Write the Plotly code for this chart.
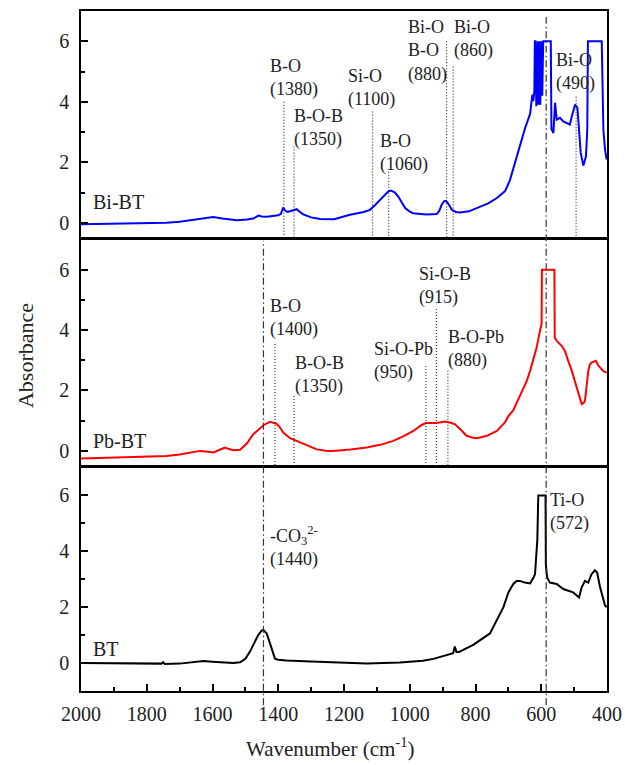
import plotly.graph_objects as go
from plotly.subplots import make_subplots

# ---------------- data ----------------
bi_wn = [2000, 1900, 1800, 1740, 1700, 1660, 1633, 1615, 1598, 1570, 1526, 1495, 1476, 1460, 1450,
         1435, 1400, 1392, 1385, 1378, 1372, 1362, 1354, 1344, 1334, 1324, 1300, 1273, 1230, 1182,
         1140, 1121, 1106, 1090, 1075, 1065, 1057, 1045, 1035, 1025, 1014, 1000, 990, 950, 918,
         910, 903, 895, 890, 882, 872, 860, 847, 820, 796, 760, 735, 710, 695, 680, 665, 650,
         634, 627, 624, 621, 619.5, 618.5, 617.5, 615, 612.5, 611, 609, 606.5, 605.5, 603, 600.5,
         599.5, 597, 594, 590, 571, 569, 563, 558, 553, 543, 533, 523, 513, 507, 497, 490,
         485, 480, 472, 464, 460, 458, 416, 411, 406, 401]
bi_abs = [-0.05, -0.04, -0.03, 0.0, 0.04, 0.10, 0.16, 0.17, 0.19, 0.14, 0.09, 0.11, 0.14, 0.24, 0.21,
          0.20, 0.25, 0.30, 0.50, 0.40, 0.36, 0.39, 0.41, 0.45, 0.36, 0.28, 0.18, 0.13, 0.12, 0.27,
          0.36, 0.43, 0.58, 0.76, 0.92, 1.04, 1.07, 1.00, 0.87, 0.68, 0.49, 0.37, 0.32, 0.28, 0.29,
          0.40, 0.60, 0.72, 0.73, 0.62, 0.43, 0.36, 0.34, 0.38, 0.49, 0.65, 0.82, 1.05, 1.42, 2.0, 2.6, 3.1,
          3.6, 4.24, 4.02, 4.35, 6.0, 6.0, 6.0, 3.85, 6.0, 6.0, 3.9, 6.0, 6.0, 3.9, 6.0,
          6.0, 4.2, 6.0, 6.0, 6.0, 3.1, 2.97, 3.97, 3.41, 3.47, 3.35, 3.30, 3.25, 3.52, 3.91, 3.8,
          3.08, 2.31, 1.89, 2.2, 3.08, 6.0, 6.0, 3.08, 2.42, 2.09]

pb_wn = [2000, 1900, 1800, 1739, 1700, 1660, 1638, 1620, 1597, 1580, 1562, 1550, 1537, 1516, 1495,
         1476, 1460, 1445, 1425, 1405, 1395, 1385, 1364, 1345, 1324, 1300, 1283, 1250, 1233, 1180,
         1131, 1090, 1050, 1020, 989, 965, 951, 935, 918, 905, 893, 875, 862, 845, 827, 810, 796,
         765, 735, 710, 700, 685, 665, 644, 634, 614, 604, 599, 598, 560, 559, 553, 538, 528, 518,
         507, 492, 477, 470, 467, 457, 452, 447, 437, 434, 428, 421, 412, 401]
pb_abs = [-0.25, -0.22, -0.19, -0.17, -0.12, -0.04, 0.0, -0.02, -0.05, 0.03, 0.11, 0.06, 0.02, 0.04, 0.25,
          0.55, 0.72, 0.85, 0.96, 0.90, 0.78, 0.61, 0.42, 0.33, 0.24, 0.12, 0.05, 0.0, 0.0, 0.05,
          0.11, 0.20, 0.33, 0.48, 0.66, 0.85, 0.92, 0.92, 0.92, 0.95, 0.97, 0.93, 0.88, 0.70, 0.50, 0.44, 0.42,
          0.50, 0.66, 0.95, 1.15, 1.35, 1.85, 2.32, 2.65, 3.42, 3.97, 4.2, 6.0, 6.0, 3.75, 3.64, 3.48, 3.31, 2.98,
          2.65, 2.10, 1.55, 1.6, 1.66, 2.65, 2.87, 2.92, 2.98, 2.98, 2.85, 2.76, 2.65, 2.59]

bt_wn = [2000, 1900, 1800, 1755, 1750, 1745, 1700, 1660, 1628, 1600, 1560, 1537, 1516, 1500, 1486,
         1470, 1461, 1450, 1445, 1435, 1423, 1410, 1400, 1375, 1300, 1273, 1200, 1131, 1030, 960,
         928, 880, 868, 863, 858, 850, 807, 756, 726, 715, 700, 685, 675, 665, 650, 634, 624, 619,
         612, 609, 587, 586, 582, 574, 553, 533, 503, 485, 477, 467, 457, 447, 437, 430, 421, 411,
         406, 401]
bt_abs = [0.0, -0.01, -0.02, -0.02, 0.03, -0.03, -0.02, 0.03, 0.07, 0.05, 0.02, 0.0, 0.03, 0.15, 0.41,
          0.80, 1.0, 1.17, 1.18, 1.06, 0.59, 0.16, 0.12, 0.09, 0.06, 0.05, 0.0, -0.02, 0.02, 0.08,
          0.15, 0.30, 0.35, 0.59, 0.40, 0.40, 0.65, 1.06, 1.71, 2.0, 2.53, 2.83, 2.94, 2.94, 2.88, 2.85, 3.05, 3.18,
          4.4, 6.0, 6.0, 3.53, 3.06, 2.88, 2.83, 2.65, 2.53, 2.35, 2.71, 2.94, 2.88, 3.18, 3.32, 3.24, 2.71, 2.30,
          2.06, 2.0]

# peak assignments: label, label anchor (wn, abs), marker line wn, line top
bi_labels = ["B-O<br>(1380)", "B-O-B<br>(1350)", "Si-O<br>(1100)", "B-O<br>(1060)",
             "Bi-O<br>B-O<br>(880)", "Bi-O<br>(860)", "Bi-O<br>(490)"]
bi_label_wn = [1431, 1358, 1194, 1097, 1011, 871, 561]
bi_label_y = [4.77, 3.13, 4.45, 2.30, 5.68, 6.06, 4.98]
bi_line_wn = [1383, 1352, 1113, 1064, 888, 868, 494]
bi_line_top = [4.0, 2.52, 3.68, 1.69, 6.0, 5.17, 4.17]

pb_labels = ["B-O<br>(1400)", "B-O-B<br>(1350)", "Si-O-Pb<br>(950)", "Si-O-B<br>(915)", "B-O-Pb<br>(880)"]
pb_label_wn = [1431, 1355, 1115, 978, 890]
pb_label_y = [4.39, 2.52, 2.98, 5.46, 3.39]
pb_line_wn = [1410, 1352, 951, 919, 884]
pb_line_top = [3.54, 1.82, 2.81, 4.70, 2.65]

bt_labels = ["-CO<sub>3</sub><sup>2-</sup><br>(1440)", "Ti-O<br>(572)"]
bt_label_wn = [1431, 580]
bt_label_y = [4.18, 5.40]

sample_names = ["Bi-BT", "Pb-BT", "BT"]
sample_label_y = [0.70, 0.33, 0.51]

dashdot_wn = [1445, 585]

x_ticks = [2000, 1800, 1600, 1400, 1200, 1000, 800, 600, 400]
y_ticks = [0, 2, 4, 6]

# ---------------- figure ----------------
FONT = "Liberation Serif, Times New Roman, serif"
fig = make_subplots(rows=3, cols=1, shared_xaxes=True, vertical_spacing=0)

series = [(bi_wn, bi_abs, "#0000ff"), (pb_wn, pb_abs, "#ff0000"), (bt_wn, bt_abs, "#000000")]
for i, (wn, ab, col) in enumerate(series):
    fig.add_trace(go.Scatter(x=wn, y=ab, mode="lines", line=dict(color=col, width=2),
                             showlegend=False, hoverinfo="skip"), row=i + 1, col=1)

# panel domains (paper fractions); small offsets make shared borders coincide
domains = [[0.6662, 1.0], [0.3309, 0.6640], [0.0, 0.3287]]
yranges = [[-0.5, 7], [-0.5, 7], [-1, 7]]

for i in range(3):
    ax = "" if i == 0 else str(i + 1)
    fig.layout["yaxis" + ax].update(
        domain=domains[i], range=yranges[i], tickvals=y_ticks, ticks="inside", ticklen=7,
        tickwidth=1.5, tickcolor="black", minor=dict(dtick=1, ticks="inside", ticklen=4,
                                                    tickwidth=1.5, tickcolor="black"),
        showline=True, linewidth=1.5, linecolor="black", mirror=True, showgrid=False,
        zeroline=False, tickfont=dict(family=FONT, size=20, color="#222"), ticklabelstandoff=6,
        automargin=False)
    xa = dict(range=[2000, 400], showline=True, linewidth=1.5, linecolor="black", mirror=True,
              showgrid=False, zeroline=False, automargin=False)
    if i == 2:
        xa.update(tickvals=x_ticks, ticks="inside", ticklen=7, tickwidth=1.5, tickcolor="black",
                  minor=dict(dtick=100, ticks="inside", ticklen=4, tickwidth=1.5, tickcolor="black"),
                  tickfont=dict(family=FONT, size=20, color="#222"), showticklabels=True,
                  ticklabelstandoff=4)
    else:
        xa.update(ticks="", showticklabels=False)
    fig.layout["xaxis" + ax].update(**xa)

shapes = []
annotations = []
ann_font = dict(family=FONT, size=18, color="#222")

def add_labels(labels, lwn, ly, xref, yref):
    for t, x, y in zip(labels, lwn, ly):
        annotations.append(dict(text=t, x=x, y=y, xref=xref, yref=yref, xanchor="left",
                                yanchor="middle", showarrow=False, align="left", font=ann_font))

def add_lines(lwn, ltop, xref, yref, bottom):
    for x, t in zip(lwn, ltop):
        shapes.append(dict(type="line", x0=x, x1=x, y0=t, y1=bottom, xref=xref, yref=yref,
                           line=dict(color="#333", width=1.2, dash="1px,2px")))

add_labels(bi_labels, bi_label_wn, bi_label_y, "x", "y")
add_lines(bi_line_wn, bi_line_top, "x", "y", -0.5)
add_labels(pb_labels, pb_label_wn, pb_label_y, "x2", "y2")
add_lines(pb_line_wn, pb_line_top, "x2", "y2", -0.5)
add_labels(bt_labels, bt_label_wn, bt_label_y, "x3", "y3")

for i, name in enumerate(sample_names):
    ax = "" if i == 0 else str(i + 1)
    annotations.append(dict(text=name, x=1970, y=sample_label_y[i], xref="x" + ax, yref="y" + ax,
                            xanchor="left", yanchor="middle", showarrow=False,
                            font=dict(family=FONT, size=20, color="#222")))

# dash-dot reference lines spanning panels
dd_spans = [[-0.021, 0.662], [-0.021, 0.991]]
for x, (y0, y1) in zip(dashdot_wn, dd_spans):
    shapes.append(dict(type="line", x0=x, x1=x, y0=y0, y1=y1, xref="x3", yref="paper",
                       line=dict(color="#333", width=1.2, dash="7px,3px,1.5px,3px")))

annotations.append(dict(text="Absorbance", x=-0.1065, y=0.494, xref="paper", yref="paper",
                        textangle=-90, showarrow=False, xanchor="center", yanchor="middle",
                        font=dict(family=FONT, size=22, color="#222")))
annotations.append(dict(text="Wavenumber (cm<sup>-1</sup>)", x=0.475, y=-0.0838, xref="paper",
                        yref="paper", showarrow=False, xanchor="center", yanchor="middle",
                        font=dict(family=FONT, size=21, color="#222")))

fig.update_layout(width=625, height=765, margin=dict(l=81, r=18, t=11, b=74),
                  plot_bgcolor="white", paper_bgcolor="white", shapes=shapes,
                  annotations=annotations, showlegend=False)

fig.write_html("out.html")
